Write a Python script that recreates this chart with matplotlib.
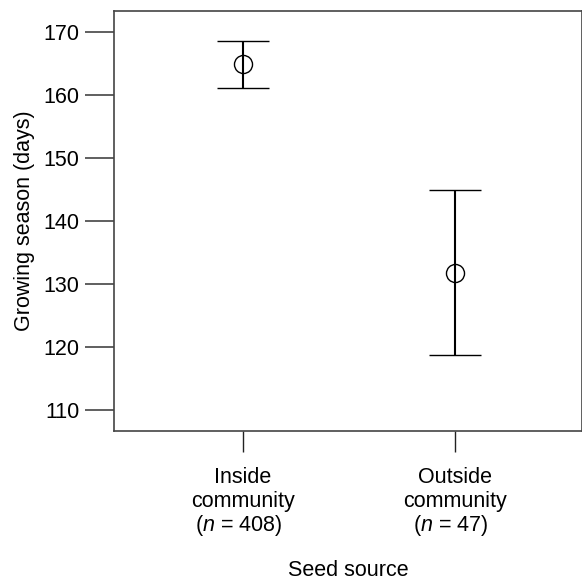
import matplotlib.pyplot as plt
from matplotlib.transforms import blended_transform_factory

plt.rcParams['font.family'] = 'Liberation Sans'
plt.rcParams['mathtext.fontset'] = 'custom'
plt.rcParams['mathtext.it'] = 'Liberation Sans:italic'
plt.rcParams['mathtext.rm'] = 'Liberation Sans'

# Data
groups = ['Inside', 'Outside']
sample_sizes = [408, 47]
means = [165.0, 131.8]
lower = [161.1, 118.7]
upper = [168.6, 145.0]

x = [1, 2]
err = [[m - lo for m, lo in zip(means, lower)], [hi - m for m, hi in zip(means, upper)]]

fig = plt.figure(figsize=(5.82, 5.81), dpi=100)
ax = fig.add_axes([0.196, 0.258, 0.804, 0.723])

ax.errorbar(x, means, yerr=err, fmt='o', mfc='none', mec='black', mew=1.0,
            ms=13, ecolor='black', elinewidth=1.5, capsize=19, capthick=1.8,
            color='black', zorder=3)

ax.set_xlim(0.392, 2.6)
ax.set_ylim(106.67, 173.33)
ax.set_yticks([110, 120, 130, 140, 150, 160, 170])
ax.set_xticks(x)
ax.set_xticklabels(['', ''])

for s in ax.spines.values():
    s.set_color('#444444')
    s.set_linewidth(1.2)

fs = 15.5
ax.tick_params(axis='y', length=21, width=1.2, color='#444444', labelsize=fs, pad=4)
ax.tick_params(axis='x', length=15, width=1.0, color='#222222')

# multi-line category labels below the axis (axes height = 420 px)
tr = blended_transform_factory(ax.transData, ax.transAxes)
for xi, g, n in zip(x, groups, sample_sizes):
    ax.text(xi, -46 / 420, g, transform=tr, ha='center', va='center', fontsize=fs)
    ax.text(xi, -70 / 420, 'community', transform=tr, ha='center', va='center', fontsize=fs)
    ax.text(xi - 0.02, -94 / 420, '($\\it{n}$ = %d)' % n, transform=tr, ha='center',
            va='center', fontsize=fs)

ax.set_ylabel('Growing season (days)', fontsize=fs, labelpad=6)
ax.text(0.5, -139 / 420, 'Seed source', transform=ax.transAxes, ha='center',
        va='center', fontsize=fs)

fig.savefig('out.png', dpi=100)
